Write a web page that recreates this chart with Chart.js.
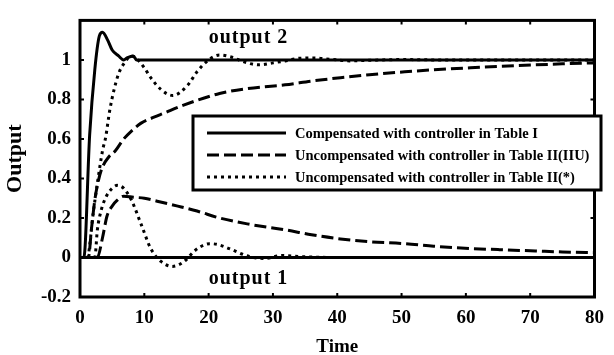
<!DOCTYPE html>
<html><head><meta charset="utf-8">
<script src="https://cdn.jsdelivr.net/npm/chart.js@4"></script>
<style>html,body{margin:0;padding:0;background:#fff}#wrap{width:614px;height:355px}</style>
</head><body><div id="wrap"><canvas id="c" width="614" height="355"></canvas></div>
<script>
// ---- data ----
const xTickValues = [0, 10, 20, 30, 40, 50, 60, 70, 80];
const xTickLabels = ['0', '10', '20', '30', '40', '50', '60', '70', '80'];
const yTickValues = [-0.2, 0, 0.2, 0.4, 0.6, 0.8, 1];
const yTickLabels = ['-0.2', '0', '0.2', '0.4', '0.6', '0.8', '1'];

const seriesNames = [
  'Compensated with controller in Table I',
  'Uncompensated with controller in Table II(IIU)',
  'Uncompensated with controller in Table II(*)'
];

// Compensated (solid) - output 2 and output 1
const tSolid2 = [0, 0.6, 1.5, 2.3, 3, 3.5, 4.3, 5, 6, 6.8, 7.3, 8.3, 8.8, 10, 80];
const vSolid2 = [0, 0, 0.62, 0.95, 1.12, 1.14, 1.1, 1.05, 1.02, 1.0, 1.01, 1.02, 1.0, 1.0, 1.0];
const tSolid1 = [0, 80];
const vSolid1 = [0, 0];

// Uncompensated IIU (dashed)
const tDash2 = [0, 1.3, 1.8, 2.3, 2.8, 3.4, 4.5, 5.5, 6.8, 8, 9.5, 11.5, 13, 16, 21.7, 26, 31.9, 36, 40.5, 45, 50.5, 55, 60.7, 65, 70.8, 75, 80];
const vDash2 = [0, 0, 0.15, 0.29, 0.38, 0.45, 0.51, 0.54, 0.6, 0.64, 0.68, 0.71, 0.73, 0.77, 0.83, 0.855, 0.874, 0.893, 0.91, 0.925, 0.94, 0.95, 0.96, 0.967, 0.975, 0.98, 0.985];
const tDash1 = [0, 2.7, 3.5, 4.2, 5, 5.8, 6.8, 8.3, 10, 12, 15.2, 18.2, 21.7, 26, 31.9, 36, 40.5, 45, 50.5, 55, 60.7, 65, 70.8, 75, 80];
const vDash1 = [0, 0, 0.1, 0.21, 0.26, 0.29, 0.31, 0.305, 0.3, 0.285, 0.26, 0.235, 0.2, 0.17, 0.14, 0.115, 0.094, 0.08, 0.07, 0.057, 0.045, 0.04, 0.033, 0.028, 0.025];

// Uncompensated (*) (dotted)
const tDot2 = [0, 1.2, 1.5, 2, 2.7, 3.5, 4, 4.6, 5.3, 6, 6.8, 8, 9, 10, 11, 12.6, 14.4, 16.7, 18.2, 20, 21.7, 23.5, 25.5, 27.8, 30, 31.9, 34, 36.4, 39, 42, 45, 50, 55, 60, 80];
const vDot2 = [0, 0, 0.06, 0.21, 0.375, 0.54, 0.61, 0.74, 0.85, 0.93, 0.98, 1.02, 1.0, 0.96, 0.91, 0.85, 0.82, 0.87, 0.94, 1.0, 1.025, 1.015, 0.99, 0.975, 0.985, 0.995, 1.008, 1.01, 1.003, 0.995, 0.998, 1.002, 1.0, 1.0, 1.0];
const tDot1 = [0, 2.3, 2.7, 3.3, 4.1, 5, 5.8, 6.8, 8, 9.6, 11, 12.6, 14.4, 16.2, 17.7, 18.5, 20.2, 21.5, 23.2, 26.3, 28.8, 31.4, 34, 40, 80];
const vDot1 = [0, 0, 0.14, 0.24, 0.31, 0.35, 0.365, 0.35, 0.29, 0.16, 0.045, -0.02, -0.045, -0.02, 0.03, 0.05, 0.07, 0.065, 0.045, 0.005, -0.005, 0.01, 0.005, 0, 0];

const annotLabels = ['output 2', 'output 1'];
const annotT = [20, 20];
const annotV = [1.087, -0.136];

// ---- chart ----
const FONT = "'Liberation Serif', 'Times New Roman', serif";
const pts = (t, v) => t.map((x, i) => ({x: x, y: v[i]}));
const DASH = [12, 5];
const DOT = [3, 4];
function ds(label, t, v, dash) {
  return {label: label, data: pts(t, v), borderColor: '#000', borderWidth: 3, borderDash: dash,
          pointRadius: 0, fill: false, cubicInterpolationMode: 'monotone', borderCapStyle: 'butt'};
}
const datasets = [
  ds(seriesNames[0], tSolid2, vSolid2, []),
  ds(seriesNames[0], tSolid1, vSolid1, []),
  ds(seriesNames[1], tDash2, vDash2, DASH),
  ds(seriesNames[1], tDash1, vDash1, DASH),
  ds(seriesNames[2], tDot2, vDot2, DOT),
  ds(seriesNames[2], tDot1, vDot1, DOT)
];
const legendDatasets = [0, 2, 4];

const decor = {
  id: 'decor',
  afterDraw(chart) {
    const ctx = chart.ctx, a = chart.chartArea;
    const xs = chart.scales.x, ys = chart.scales.y;
    ctx.save();
    ctx.strokeStyle = '#000';
    ctx.setLineDash([]);
    // inward ticks
    ctx.lineWidth = 2;
    ctx.beginPath();
    xTickValues.forEach(v => {
      const px = xs.getPixelForValue(v);
      ctx.moveTo(px, a.bottom); ctx.lineTo(px, a.bottom - 4);
      ctx.moveTo(px, a.top); ctx.lineTo(px, a.top + 4);
    });
    yTickValues.forEach(v => {
      const py = ys.getPixelForValue(v);
      ctx.moveTo(a.left, py); ctx.lineTo(a.left + 4, py);
      ctx.moveTo(a.right, py); ctx.lineTo(a.right - 4, py);
    });
    ctx.stroke();
    // frame
    ctx.lineWidth = 3;
    ctx.strokeRect(a.left, a.top, a.right - a.left, a.bottom - a.top);
    // legend
    const bx = 193, by = 116, bw = 408, bh = 74;
    ctx.fillStyle = '#fff';
    ctx.fillRect(bx, by, bw, bh);
    ctx.lineWidth = 3;
    ctx.strokeRect(bx, by, bw, bh);
    ctx.font = 'bold 14.5px ' + FONT;
    ctx.textBaseline = 'middle';
    ctx.textAlign = 'left';
    ctx.fillStyle = '#000';
    legendDatasets.forEach((di, i) => {
      const d = chart.data.datasets[di];
      const y = by + 17 + i * 22;
      ctx.setLineDash(d.borderDash);
      ctx.lineWidth = 3;
      ctx.beginPath();
      ctx.moveTo(bx + 14, y); ctx.lineTo(bx + 93, y);
      ctx.stroke();
      ctx.setLineDash([]);
      ctx.fillText(d.label, bx + 102, y + 1);
    });
    // annotations
    ctx.font = 'bold 20px ' + FONT;
    ctx.textBaseline = 'alphabetic';
    try { ctx.letterSpacing = '1px'; } catch (e) {}
    annotLabels.forEach((s, i) => {
      ctx.fillText(s, xs.getPixelForValue(annotT[i]), ys.getPixelForValue(annotV[i]));
    });
    ctx.restore();
  }
};

new Chart(document.getElementById('c'), {
  type: 'line',
  data: {datasets: datasets},
  options: {
    responsive: false,
    animation: false,
    devicePixelRatio: 1,
    layout: {padding: {top: 12, right: 7, left: 0, bottom: 0}},
    plugins: {legend: {display: false}, tooltip: {enabled: false}},
    scales: {
      x: {
        type: 'linear', min: 0, max: 80,
        afterBuildTicks: s => { s.ticks = xTickValues.map(v => ({value: v})); },
        afterFit: s => { s.height = 58; },
        grid: {display: false, drawTicks: false},
        border: {display: false},
        ticks: {color: '#000', padding: 10, maxRotation: 0, font: {family: FONT, size: 19, weight: 'bold'},
                callback: (v, i) => xTickLabels[i]},
        title: {display: true, text: 'Time', color: '#000', padding: {top: 0, bottom: -2},
                font: {family: FONT, size: 19, weight: 'bold', lineHeight: 1}}
      },
      y: {
        type: 'linear', min: -0.2, max: 1.2,
        afterBuildTicks: s => { s.ticks = yTickValues.map(v => ({value: v})); },
        afterFit: s => { s.width = 80; },
        grid: {display: false, drawTicks: false},
        border: {display: false},
        ticks: {color: '#000', padding: 9, font: {family: FONT, size: 19, weight: 'bold'},
                callback: (v, i) => yTickLabels[i]},
        title: {display: true, text: 'Output', color: '#000', padding: {top: 4, bottom: 0},
                font: {family: FONT, size: 22, weight: 'bold', lineHeight: 1}}
      }
    }
  },
  plugins: [decor]
});
</script>
</body></html>
